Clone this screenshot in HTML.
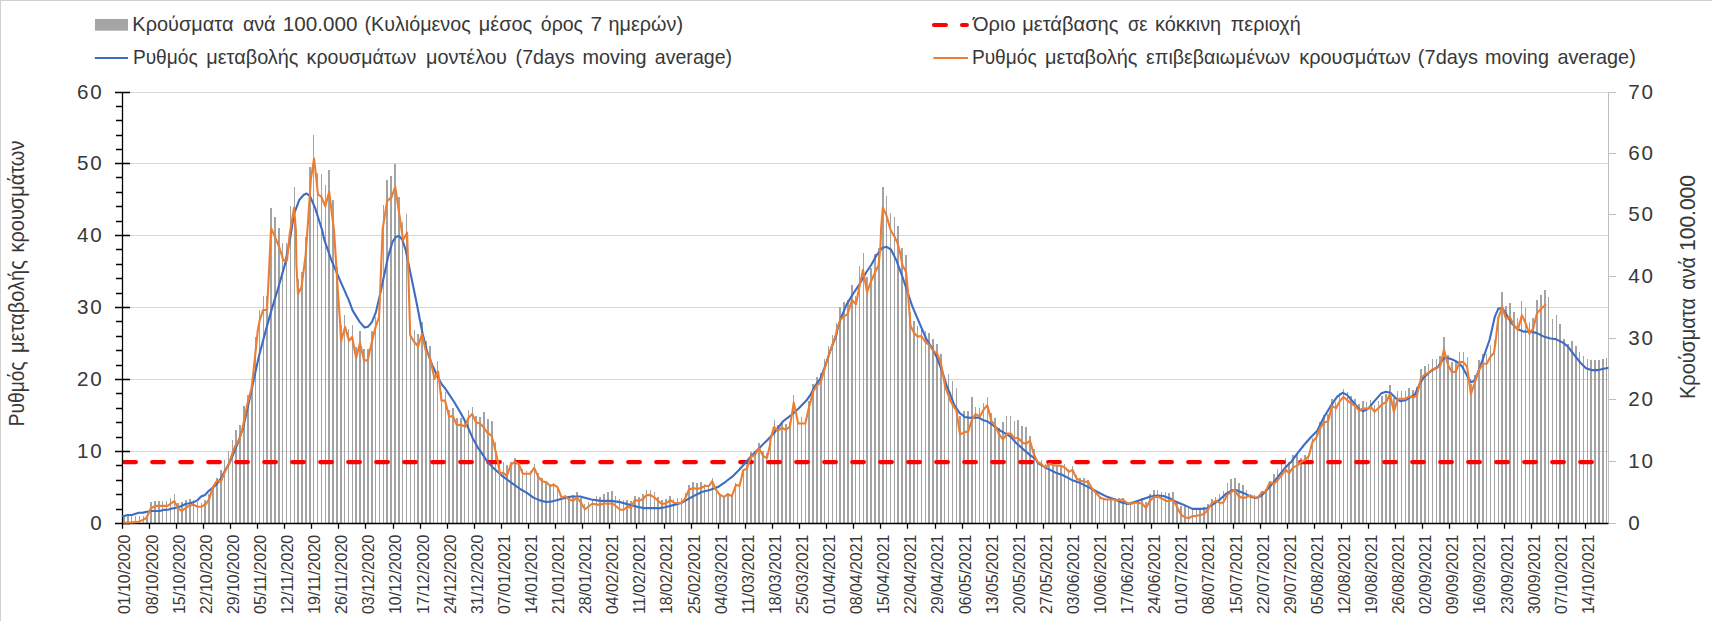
<!DOCTYPE html>
<html lang="el"><head><meta charset="utf-8"><title>Chart</title>
<style>html,body{margin:0;padding:0;background:#fff;width:1712px;height:621px;overflow:hidden}</style>
</head><body>
<svg width="1712" height="621" viewBox="0 0 1712 621" style="position:absolute;left:0;top:0;font-family:'Liberation Sans',sans-serif">
<rect x="0" y="0" width="1712" height="621" fill="#fff"/>
<path d="M0 0H1712V1H1V621H0z" fill="#d0d0d0"/>
<path d="M122.5 451.5H1608.5M122.5 379.5H1608.5M122.5 307.5H1608.5M122.5 235.5H1608.5M122.5 163.5H1608.5M122.5 92.5H1608.5" stroke="#d6d6d6" stroke-width="1" fill="none"/>
<path d="M123 523.5V516H125V523.5zM127 523.5V516H129V523.5zM131 523.5V516H132V523.5zM135 523.5V516H136V523.5zM139 523.5V516H140V523.5zM143 523.5V516H144V523.5zM146 523.5V516H148V523.5zM150 523.5V502H152V523.5zM154 523.5V501H156V523.5zM158 523.5V501H160V523.5zM162 523.5V501H163V523.5zM166 523.5V501H167V523.5zM170 523.5V498H171V523.5zM174 523.5V494H175V523.5zM177 523.5V503H179V523.5zM181 523.5V502H183V523.5zM185 523.5V500H187V523.5zM189 523.5V499H191V523.5zM193 523.5V500H194V523.5zM197 523.5V502H198V523.5zM201 523.5V503H202V523.5zM204 523.5V500H206V523.5zM208 523.5V494H210V523.5zM212 523.5V486H214V523.5zM216 523.5V478H218V523.5zM220 523.5V470H222V523.5zM224 523.5V460H225V523.5zM228 523.5V451H229V523.5zM232 523.5V440H233V523.5zM235 523.5V430H237V523.5zM239 523.5V425H241V523.5zM243 523.5V406H245V523.5zM247 523.5V395H249V523.5zM251 523.5V386H253V523.5zM255 523.5V337H256V523.5zM259 523.5V310H260V523.5zM263 523.5V296H264V523.5zM266 523.5V296H268V523.5zM270 523.5V208H272V523.5zM274 523.5V217H276V523.5zM278 523.5V228H280V523.5zM282 523.5V243H283V523.5zM286 523.5V243H287V523.5zM290 523.5V206H291V523.5zM294 523.5V187H295V523.5zM297 523.5V279H299V523.5zM301 523.5V272H303V523.5zM305 523.5V237H307V523.5zM309 523.5V167H311V523.5zM313 523.5V135H314V523.5zM317 523.5V173H318V523.5zM321 523.5V174H322V523.5zM325 523.5V185H326V523.5zM328 523.5V170H330V523.5zM332 523.5V200H334V523.5zM336 523.5V267H338V523.5zM340 523.5V325H342V523.5zM344 523.5V315H345V523.5zM348 523.5V329H349V523.5zM352 523.5V325H353V523.5zM355 523.5V347H357V523.5zM359 523.5V331H361V523.5zM363 523.5V349H365V523.5zM367 523.5V349H369V523.5zM371 523.5V331H373V523.5zM375 523.5V317H376V523.5zM379 523.5V314H380V523.5zM383 523.5V205H384V523.5zM386 523.5V180H388V523.5zM390 523.5V176H392V523.5zM394 523.5V164H396V523.5zM398 523.5V197H400V523.5zM402 523.5V222H403V523.5zM406 523.5V214H407V523.5zM410 523.5V331H411V523.5zM414 523.5V330H415V523.5zM417 523.5V334H419V523.5zM421 523.5V322H423V523.5zM425 523.5V341H427V523.5zM429 523.5V346H431V523.5zM433 523.5V371H434V523.5zM437 523.5V361H438V523.5zM441 523.5V392H442V523.5zM445 523.5V392H446V523.5zM448 523.5V410H450V523.5zM452 523.5V408H454V523.5zM456 523.5V418H458V523.5zM460 523.5V418H462V523.5zM464 523.5V418H465V523.5zM468 523.5V410H469V523.5zM472 523.5V407H473V523.5zM475 523.5V416H477V523.5zM479 523.5V417H481V523.5zM483 523.5V412H485V523.5zM487 523.5V419H489V523.5zM491 523.5V421H493V523.5zM495 523.5V442H496V523.5zM499 523.5V460H500V523.5zM503 523.5V462H504V523.5zM506 523.5V465H508V523.5zM510 523.5V462H512V523.5zM514 523.5V458H516V523.5zM518 523.5V462H520V523.5zM522 523.5V469H523V523.5zM526 523.5V471H527V523.5zM530 523.5V471H531V523.5zM534 523.5V464H535V523.5zM537 523.5V473H539V523.5zM541 523.5V478H543V523.5zM545 523.5V481H547V523.5zM549 523.5V484H551V523.5zM553 523.5V483H554V523.5zM557 523.5V486H558V523.5zM561 523.5V496H562V523.5zM565 523.5V495H566V523.5zM568 523.5V497H570V523.5zM572 523.5V495H574V523.5zM576 523.5V492H578V523.5zM580 523.5V498H582V523.5zM584 523.5V504H585V523.5zM588 523.5V502H589V523.5zM592 523.5V500H593V523.5zM596 523.5V496H597V523.5zM599 523.5V497H601V523.5zM603 523.5V494H605V523.5zM607 523.5V492H609V523.5zM611 523.5V491H613V523.5zM615 523.5V496H616V523.5zM619 523.5V499H620V523.5zM623 523.5V500H624V523.5zM626 523.5V500H628V523.5zM630 523.5V501H632V523.5zM634 523.5V496H636V523.5zM638 523.5V497H640V523.5zM642 523.5V494H644V523.5zM646 523.5V490H647V523.5zM650 523.5V490H651V523.5zM654 523.5V492H655V523.5zM657 523.5V497H659V523.5zM661 523.5V500H663V523.5zM665 523.5V499H667V523.5zM669 523.5V496H671V523.5zM673 523.5V499H674V523.5zM677 523.5V498H678V523.5zM681 523.5V498H682V523.5zM685 523.5V493H686V523.5zM688 523.5V485H690V523.5zM692 523.5V482H694V523.5zM696 523.5V483H698V523.5zM700 523.5V482H702V523.5zM704 523.5V484H705V523.5zM708 523.5V485H709V523.5zM712 523.5V478H713V523.5zM716 523.5V486H717V523.5zM719 523.5V494H721V523.5zM723 523.5V496H725V523.5zM727 523.5V493H729V523.5zM731 523.5V494H733V523.5zM735 523.5V483H736V523.5zM739 523.5V485H740V523.5zM743 523.5V470H744V523.5zM746 523.5V465H748V523.5zM750 523.5V452H752V523.5zM754 523.5V451H756V523.5zM758 523.5V443H760V523.5zM762 523.5V451H764V523.5zM766 523.5V453H767V523.5zM770 523.5V443H771V523.5zM774 523.5V420H775V523.5zM777 523.5V425H779V523.5zM781 523.5V422H783V523.5zM785 523.5V424H787V523.5zM789 523.5V422H791V523.5zM793 523.5V395H794V523.5zM797 523.5V418H798V523.5zM801 523.5V417H802V523.5zM805 523.5V419H806V523.5zM808 523.5V401H810V523.5zM812 523.5V384H814V523.5zM816 523.5V377H818V523.5zM820 523.5V373H822V523.5zM824 523.5V359H825V523.5zM828 523.5V346H829V523.5zM832 523.5V335H833V523.5zM836 523.5V323H837V523.5zM839 523.5V307H841V523.5zM843 523.5V302H845V523.5zM847 523.5V300H849V523.5zM851 523.5V285H853V523.5zM855 523.5V296H856V523.5zM859 523.5V266H860V523.5zM863 523.5V253H864V523.5zM866 523.5V277H868V523.5zM870 523.5V268H872V523.5zM874 523.5V254H876V523.5zM878 523.5V248H880V523.5zM882 523.5V187H884V523.5zM886 523.5V196H887V523.5zM890 523.5V213H891V523.5zM894 523.5V217H895V523.5zM897 523.5V226H899V523.5zM901 523.5V248H903V523.5zM905 523.5V255H907V523.5zM909 523.5V312H911V523.5zM913 523.5V321H915V523.5zM917 523.5V326H918V523.5zM921 523.5V329H922V523.5zM925 523.5V331H926V523.5zM928 523.5V333H930V523.5zM932 523.5V339H934V523.5zM936 523.5V344H938V523.5zM940 523.5V354H942V523.5zM944 523.5V380H945V523.5zM948 523.5V374H949V523.5zM952 523.5V381H953V523.5zM956 523.5V388H957V523.5zM959 523.5V416H961V523.5zM963 523.5V411H965V523.5zM967 523.5V411H969V523.5zM971 523.5V397H973V523.5zM975 523.5V407H976V523.5zM979 523.5V408H980V523.5zM983 523.5V403H984V523.5zM987 523.5V397H988V523.5zM990 523.5V413H992V523.5zM994 523.5V418H996V523.5zM998 523.5V428H1000V523.5zM1002 523.5V422H1004V523.5zM1006 523.5V416H1007V523.5zM1010 523.5V416H1011V523.5zM1014 523.5V421H1015V523.5zM1017 523.5V420H1019V523.5zM1021 523.5V426H1023V523.5zM1025 523.5V427H1027V523.5zM1029 523.5V436H1031V523.5zM1033 523.5V449H1035V523.5zM1037 523.5V461H1038V523.5zM1041 523.5V460H1042V523.5zM1045 523.5V464H1046V523.5zM1048 523.5V463H1050V523.5zM1052 523.5V465H1054V523.5zM1056 523.5V465H1058V523.5zM1060 523.5V466H1062V523.5zM1064 523.5V464H1065V523.5zM1068 523.5V469H1069V523.5zM1072 523.5V466H1073V523.5zM1076 523.5V475H1077V523.5zM1079 523.5V478H1081V523.5zM1083 523.5V478H1085V523.5zM1087 523.5V480H1089V523.5zM1091 523.5V488H1093V523.5zM1095 523.5V492H1096V523.5zM1099 523.5V496H1100V523.5zM1103 523.5V498H1104V523.5zM1107 523.5V499H1108V523.5zM1110 523.5V498H1112V523.5zM1114 523.5V498H1116V523.5zM1118 523.5V498H1120V523.5zM1122 523.5V498H1124V523.5zM1126 523.5V502H1127V523.5zM1130 523.5V503H1131V523.5zM1134 523.5V502H1135V523.5zM1137 523.5V500H1139V523.5zM1141 523.5V498H1143V523.5zM1145 523.5V502H1147V523.5zM1149 523.5V494H1151V523.5zM1153 523.5V490H1155V523.5zM1157 523.5V490H1158V523.5zM1161 523.5V492H1162V523.5zM1165 523.5V492H1166V523.5zM1168 523.5V493H1170V523.5zM1172 523.5V492H1174V523.5zM1176 523.5V501H1178V523.5zM1180 523.5V506H1182V523.5zM1184 523.5V506H1186V523.5zM1188 523.5V507H1189V523.5zM1192 523.5V510H1193V523.5zM1196 523.5V510H1197V523.5zM1199 523.5V509H1201V523.5zM1203 523.5V507H1205V523.5zM1207 523.5V504H1209V523.5zM1211 523.5V499H1213V523.5zM1215 523.5V497H1216V523.5zM1219 523.5V494H1220V523.5zM1223 523.5V491H1224V523.5zM1227 523.5V483H1228V523.5zM1230 523.5V479H1232V523.5zM1234 523.5V478H1236V523.5zM1238 523.5V483H1240V523.5zM1242 523.5V485H1244V523.5zM1246 523.5V490H1247V523.5zM1250 523.5V494H1251V523.5zM1254 523.5V495H1255V523.5zM1258 523.5V495H1259V523.5zM1261 523.5V491H1263V523.5zM1265 523.5V489H1267V523.5zM1269 523.5V481H1271V523.5zM1273 523.5V474H1275V523.5zM1277 523.5V469H1278V523.5zM1281 523.5V462H1282V523.5zM1285 523.5V458H1286V523.5zM1288 523.5V462H1290V523.5zM1292 523.5V455H1294V523.5zM1296 523.5V454H1298V523.5zM1300 523.5V458H1302V523.5zM1304 523.5V455H1306V523.5zM1308 523.5V456H1309V523.5zM1312 523.5V438H1313V523.5zM1316 523.5V433H1317V523.5zM1319 523.5V422H1321V523.5zM1323 523.5V415H1325V523.5zM1327 523.5V414H1329V523.5zM1331 523.5V399H1333V523.5zM1335 523.5V402H1336V523.5zM1339 523.5V393H1340V523.5zM1343 523.5V389H1344V523.5zM1347 523.5V392H1348V523.5zM1350 523.5V396H1352V523.5zM1354 523.5V399H1356V523.5zM1358 523.5V404H1360V523.5zM1362 523.5V401H1364V523.5zM1366 523.5V402H1367V523.5zM1370 523.5V400H1371V523.5zM1374 523.5V405H1375V523.5zM1378 523.5V401H1379V523.5zM1381 523.5V396H1383V523.5zM1385 523.5V394H1387V523.5zM1389 523.5V385H1391V523.5zM1393 523.5V398H1395V523.5zM1397 523.5V391H1398V523.5zM1401 523.5V391H1402V523.5zM1405 523.5V391H1406V523.5zM1408 523.5V388H1410V523.5zM1412 523.5V390H1414V523.5zM1416 523.5V387H1418V523.5zM1420 523.5V369H1422V523.5zM1424 523.5V366H1426V523.5zM1428 523.5V364H1429V523.5zM1432 523.5V359H1433V523.5zM1436 523.5V359H1437V523.5zM1439 523.5V356H1441V523.5zM1443 523.5V337H1445V523.5zM1447 523.5V355H1449V523.5zM1451 523.5V362H1453V523.5zM1455 523.5V362H1457V523.5zM1459 523.5V352H1460V523.5zM1463 523.5V352H1464V523.5zM1467 523.5V357H1468V523.5zM1470 523.5V384H1472V523.5zM1474 523.5V375H1476V523.5zM1478 523.5V360H1480V523.5zM1482 523.5V354H1484V523.5zM1486 523.5V354H1487V523.5zM1490 523.5V345H1491V523.5zM1494 523.5V340H1495V523.5zM1498 523.5V316H1499V523.5zM1501 523.5V292H1503V523.5zM1505 523.5V306H1507V523.5zM1509 523.5V303H1511V523.5zM1513 523.5V312H1515V523.5zM1517 523.5V318H1518V523.5zM1521 523.5V301H1522V523.5zM1525 523.5V308H1526V523.5zM1529 523.5V322H1530V523.5zM1532 523.5V318H1534V523.5zM1536 523.5V300H1538V523.5zM1540 523.5V295H1542V523.5zM1544 523.5V290H1546V523.5zM1548 523.5V297H1549V523.5zM1552 523.5V319H1553V523.5zM1556 523.5V315H1557V523.5zM1559 523.5V324H1561V523.5zM1563 523.5V339H1565V523.5zM1567 523.5V344H1569V523.5zM1571 523.5V341H1573V523.5zM1575 523.5V346H1577V523.5zM1579 523.5V352H1580V523.5zM1583 523.5V356H1584V523.5zM1587 523.5V359H1588V523.5zM1590 523.5V360H1592V523.5zM1594 523.5V360H1596V523.5zM1598 523.5V360H1600V523.5zM1602 523.5V359H1604V523.5zM1606 523.5V358H1607V523.5z" fill="#a3a3a3" stroke="none"/>
<path d="M1608.5 92V523.5M1608.5 523.5h7.5M1608.5 461.5h7.5M1608.5 399.5h7.5M1608.5 338.5h7.5M1608.5 276.5h7.5M1608.5 214.5h7.5M1608.5 153.5h7.5M1608.5 92.5h7.5" stroke="#bfbfbf" stroke-width="1" fill="none"/>
<path d="M124.15 462.1H1606.72" stroke="#ff0000" stroke-width="4.1" stroke-linecap="round" stroke-dasharray="11.8 16.2" fill="none"/>
<path d="M122.5 91.9V523.5M115 523.5h15M116 509.5h6.5M116 494.5h6.5M116 480.5h6.5M116 465.5h6.5M115 451.5h15M116 437.5h6.5M116 422.5h6.5M116 408.5h6.5M116 393.5h6.5M115 379.5h15M116 365.5h6.5M116 350.5h6.5M116 336.5h6.5M116 321.5h6.5M115 307.5h15M116 293.5h6.5M116 278.5h6.5M116 264.5h6.5M116 249.5h6.5M115 235.5h15M116 221.5h6.5M116 206.5h6.5M116 192.5h6.5M116 177.5h6.5M115 163.5h15M116 149.5h6.5M116 135.5h6.5M116 120.5h6.5M116 106.5h6.5M115 92.5h15" stroke="#000" stroke-width="1.3" fill="none"/>
<path d="M121.85 523.5H1608.5M122.5 523.5v5.2M149.5 523.5v5.2M176.5 523.5v5.2M203.5 523.5v5.2M230.5 523.5v5.2M257.5 523.5v5.2M284.5 523.5v5.2M311.5 523.5v5.2M338.5 523.5v5.2M365.5 523.5v5.2M393.5 523.5v5.2M420.5 523.5v5.2M447.5 523.5v5.2M474.5 523.5v5.2M501.5 523.5v5.2M528.5 523.5v5.2M555.5 523.5v5.2M582.5 523.5v5.2M609.5 523.5v5.2M636.5 523.5v5.2M664.5 523.5v5.2M691.5 523.5v5.2M718.5 523.5v5.2M745.5 523.5v5.2M772.5 523.5v5.2M799.5 523.5v5.2M826.5 523.5v5.2M853.5 523.5v5.2M880.5 523.5v5.2M907.5 523.5v5.2M935.5 523.5v5.2M962.5 523.5v5.2M989.5 523.5v5.2M1016.5 523.5v5.2M1043.5 523.5v5.2M1070.5 523.5v5.2M1097.5 523.5v5.2M1124.5 523.5v5.2M1151.5 523.5v5.2M1178.5 523.5v5.2M1206.5 523.5v5.2M1233.5 523.5v5.2M1260.5 523.5v5.2M1287.5 523.5v5.2M1314.5 523.5v5.2M1341.5 523.5v5.2M1368.5 523.5v5.2M1395.5 523.5v5.2M1422.5 523.5v5.2M1449.5 523.5v5.2M1477.5 523.5v5.2M1504.5 523.5v5.2M1531.5 523.5v5.2M1558.5 523.5v5.2M1585.5 523.5v5.2" stroke="#000" stroke-width="1.3" fill="none"/>
<path d="M122.83 516.18L127.66 514.93L132.49 514.83L138.77 512.8L143.12 512.61L146.99 511.74L151.33 511.06L156.65 511.06L159.55 510.97L163.41 509.9L167.76 509.71L172.11 508.45L175.97 507.87L180.8 506.23L185.63 504.01L189.5 503.33L193.36 502.37L197.23 500.43L201.09 496.57L204.96 494.93L208.82 490.77L213.17 487.39L216.55 484.49L220.42 479.18L224.28 471.93L230.13 461.63L234.92 450.12L238.46 441.26L242 430.63L242.71 429.83L251.57 389.97L258.66 357.2L265.74 330.63L271.41 310.35L278.14 288.2L285.23 263.4L290.54 235.94L294.09 213.89L299.4 199.72L303.83 194.76L306.49 193.52L310.03 196.17L315.35 208.57L319.77 222.75L322.08 229.83L324.2 239.49L331.29 259.86L338.37 276.69L349 300.6L352.55 310.35L359.63 321.86L364.59 327.53L368.14 326.64L372.03 321.86L375.93 312.12L380.89 290.86L387.98 257.2L392.4 242.14L395.95 236.83L398.96 235.94L402.15 239.49L405.69 250.12L410.12 271.37L416.32 301.49L422.52 333.29L426.95 351L432.26 365.17L437.58 376.69L442.01 384.66L445.02 388.2L447.09 391.37L454.17 402L461.26 414.05L466.57 424.15L472.77 438.32L478.09 448.06L480.26 450.93L486.7 460.6L493.14 467.84L501.19 475.09L510.85 482.33L520.52 489.26L526.96 492.8L533.4 497.63L539.84 500.37L546.28 501.98L552.72 501.34L559.16 499.57L565.6 497.63L572.05 496.51L580.1 496.51L591.37 499.57L601.03 500.85L610.69 500.85L620.35 502.14L630.02 504.88L638.07 506.97L644.51 508.1L659.97 508.1L664.66 507.29L674.32 504.88L682.38 502.46L692.04 496.83L701.7 492L709.75 489.9L718.61 486.68L725.85 481.53L732.29 476.7L738.74 470.26L745.18 463.01L751.62 455.76L759.67 447.71L767.72 439.66L774.29 432.75L783.14 421.23L790.23 415.92L799.09 407.95L806.17 400.86L810.6 394.66L815.03 385.8L820.35 378.72L824.77 367.2L830.09 351.26L836.29 335.31L837.48 329.2L841.37 316.8L846.69 304.4L852 295.54L859.09 284.92L866.17 272.52L871.49 264.54L876.8 254.8L882.12 248.07L886.55 246.83L890.97 249.49L896.29 260.12L901.6 274.29L906.92 290.23L912.23 306.17L917.55 318.57L922.86 330.97L926.76 339.83L931.95 347.71L937.26 358.34L942.58 372.52L947.01 386.69L950.02 393.77L954.17 404.92L959.49 412.89L964.8 416.96L970.12 417.85L975.43 417.67L978.97 417.67L983.4 420.33L986.94 421.21L993.14 425.29L1000.23 430.6L1007.32 434.68L1010.86 436.8L1016.17 443L1023.26 449.2L1030.35 455.4L1035.66 458.95L1037.88 463.01L1045.93 467.84L1055.6 472.67L1062.04 474.77L1071.7 479.92L1079.75 482.82L1089.41 487.65L1097.46 492L1107.13 496.83L1115.18 499.57L1121.62 502.46L1128.06 504.07L1134.5 501.98L1142.55 499.24L1150.6 496.51L1157.05 495.54L1163.49 496.02L1169.93 498.44L1176.37 501.98L1182.81 504.4L1192.47 508.9L1200.52 508.9L1206.96 508.42L1213.41 504.07L1219.85 499.57L1226.29 493.61L1231.92 490.39L1235.95 490.06L1240.78 492L1244.97 493.61L1246.44 494.41L1252.08 497.31L1256.1 497.95L1260.93 496.02L1265.76 491.19L1272.21 483.95L1278.65 475.89L1285.09 467.84L1291.53 461.4L1297.97 452.54L1304.41 444.49L1310.85 437.25L1317.29 430.81L1323.03 418.83L1330.12 406.96L1337.2 396.69L1342.52 392.79L1346.94 394.92L1353.14 402L1359.34 409.09L1362.89 411.21L1368.2 408.73L1374.4 401.12L1381.49 393.14L1385.92 391.73L1390.35 392.79L1395.66 398.1L1400.09 401.12L1405.4 400.23L1410.72 397.04L1415.15 394.03L1419.57 384.29L1424 377.2L1431.09 371L1438.18 366.57L1443.49 358.6L1447.03 357.71L1452.35 359.49L1457.66 362.14L1462.09 366.57L1467.4 376.32L1470.95 382.16L1474.49 380.74L1478.92 370.12L1484.23 355.06L1489.55 340L1494.77 316.94L1498.32 308.62L1502.39 308.09L1506.29 314.29L1511.6 323.14L1517.8 329.34L1524 331.65L1531.09 331.65L1536.4 332.89L1543.49 336.43L1550.58 338.56L1555.89 339.09L1562.98 342.63L1568.29 347.06L1573.6 354.15L1580.69 363L1586.01 368.32L1591.32 370.09L1598.41 370.09L1603.72 368.85L1607.62 367.96" stroke="#3d6cc4" stroke-width="2.1" stroke-linejoin="round" stroke-linecap="round" fill="none"/>
<path d="M124.2 522.75L132.17 522.39L139.26 521.86L146.34 517.96L150.77 508.57L155.2 505.92L161.4 505.74L167.6 505.92L174.33 501.13L178.23 508.57L181.77 510.88L188.86 505.92L193.29 504.68L197.72 506.8L201.26 506.8L206.57 503.26L209.23 498.83L212.77 487.32L217.2 480.23L220.75 482L224.29 473.14L228.72 464.29L232.26 453.66L234.92 446.57L239.35 439.49L242 430.63L247.14 405.03L251.57 388.2L254.23 364.29L257.77 330.63L259.54 320.97L263.09 309.99L266.98 309.99L268.93 273.14L271.06 227.97L274.96 236.83L279.03 246.57L283.46 260.39L287 260.39L289.66 234.17L294.09 207.69L295.86 229.83L296.39 264.29L297.98 294.05L301.53 286.96L305.6 255.43L307.91 223.54L310.92 178.46L314.11 158.62L318 194.4L321.19 196.53L325.27 206.27L329.16 191.74L333.95 229.83L335.19 248.34L337.84 290.86L340.15 322.75L341.03 341.26L345.11 327.09L349 340.9L352.19 336.83L356.09 358.09L359.99 343.03L364.06 360.39L367.6 360.39L372.03 341.26L375.58 327.09L379.12 316.55L380.89 273.14L382.66 228.86L387.09 201.13L391.52 197.06L395.24 186.96L399.49 215.66L401.62 229.83L403.03 240.37L407.11 232.75L408.35 273.14L409.77 319.2L410.12 335.06L413.66 341.26L418.09 346.22L421.99 334.17L426.06 351.89L429.61 356.32L434.57 378.81L438.11 371.37L441.47 400.6L445.02 400.6L449.21 417.06L452.75 415.82L456.83 425.03L460.9 424.68L465.16 426.8L468.34 417.95L472.24 414.05L475.96 422.37L479.86 423.61L483.4 426.8L487.48 433L491.37 435.31L494.03 444.52L495.56 450.93L497.97 462.21L499.9 473.48L503.12 472.67L506.83 475.89L510.85 464.62L514.88 461.88L518.58 463.82L522.93 473.8L530.18 473.8L534.2 467.84L538.23 476.7L542.25 481.21L546.28 482.33L550.31 486.04L553.53 484.75L557.55 487.17L561.58 497.63L565.28 496.34L568.82 499.24L572.85 500.85L576.88 497.63L580.9 502.46L584.93 509.23L592.17 503.75L599.42 504.88L604.25 503.27L608.28 504.07L612.3 503.27L616.33 506.49L620.35 509.71L623.57 509.71L627.6 506.49L630.82 508.1L634.85 500.05L638.87 500.85L642.58 499.24L646.44 495.22L650.14 494.9L654.17 497.31L659.97 502.46L662.25 504.07L666.27 503.27L670.3 500.05L674.32 502.79L680.76 503.27L684.79 499.24L688.82 489.9L692.84 487.97L696.87 489.1L700.89 487.97L704.92 486.04L708.95 486.04L712.17 481.21L715.39 488.78L719.41 494.41L723.92 496.83L727.79 494.41L731.97 496.02L736 484.75L739.54 486.04L743.24 470.26L746.79 468.65L750.81 457.05L754.84 454.96L758.86 448.04L762.89 455.76L766.92 458.18L770.14 444.49L770.39 439.83L773.93 427.08L777.83 430.62L781.73 427.79L785.8 429.73L789.88 426.55L793.77 402.63L798.2 423.53L805.29 423.53L808.83 407.95L813.26 391.12L816.8 385.8L820.7 382.26L824.77 368.09L830.09 351.26L836.29 333.54L836.94 329.2L840.49 319.46L844.03 316.45L847.57 314.15L852 299.97L855.9 304.4L859.44 286.69L862.98 269.86L867.06 292L871.13 281.37L875.03 272.52L878.57 265.43L880.35 247.71L881.17 227.95L882.85 207.6L886.32 215.07L888.9 224.09L890.83 230.53L894.69 236.97L897.66 243.41L899.2 249.85L899.83 251.26L902.49 265.43L906.03 271.63L907.8 290.23L910.46 325.66L914 332.75L917.55 336.64L921.09 335.93L924.28 339.83L924.86 341.51L929.29 345.06L933.72 351.26L937.26 353.91L940.81 362.77L945.23 386.69L950.02 399.97L952.4 404.56L956.3 410.23L960.02 434.68L964.8 431.84L967.99 431.84L971.89 419.97L975.43 414.13L979.86 416.43L983.4 409.88L987.3 405.27L991.37 420.86L994.92 425.29L999.34 434.68L1002.89 439.46L1007.32 433.61L1010.86 433.61L1014.4 438.57L1017.95 437.69L1022.37 442.47L1025.92 443.89L1029.99 440.7L1033.89 454.52L1036.55 459.83L1037.88 462.21L1041.1 463.82L1045.13 467.84L1049.15 463.82L1053.18 465.1L1057.21 465.75L1061.23 465.75L1065.26 467.84L1068.8 471.87L1072.5 469.94L1076.53 478.31L1080.23 480.72L1084.26 481.53L1088.12 481.85L1092.63 489.26L1096.66 493.61L1100.68 497.95L1105.52 499.57L1111.96 499.57L1118.4 500.05L1122.75 499.57L1126.77 502.79L1130.48 504.07L1134.5 502.79L1138.53 502.79L1142.23 503.75L1146.1 508.1L1149.8 500.85L1153.82 497.31L1157.85 496.83L1161.88 498.44L1165.9 500.85L1169.93 500.85L1173.15 500.05L1177.17 507.29L1180.88 514.54L1184.42 516.96L1188.45 518.24L1192.47 516.15L1196.5 515.83L1200.52 515.02L1204.07 514.06L1207.77 509.71L1211.8 503.27L1215.82 500.85L1219.85 502.79L1223.07 502.79L1227.09 495.22L1231.12 492L1234.82 490.06L1238.37 496.02L1242.39 497.95L1244.97 497.63L1247.25 496.83L1250.47 495.7L1254.49 497.31L1258.04 497.63L1261.74 492.48L1265.76 491.19L1269.79 482.33L1273.82 483.95L1277.84 479.92L1281.87 475.09L1285.57 469.45L1289.11 473.16L1293.14 467.36L1297.17 465.75L1301.19 461.88L1305.22 459.79L1308.92 455.76L1312.46 442.08L1316.49 437.25L1319.23 430L1319.84 428.57L1323.91 422.37L1327.99 421.49L1331.89 405.9L1335.96 408.2L1339.86 401.12L1343.4 397.04L1346.94 399.88L1351.37 403.77L1355.27 405.9L1359.34 410.86L1363.24 408.2L1367.32 408.73L1370.86 406.96L1374.4 411.74L1378.83 407.67L1382.37 404.13L1386.27 402L1389.99 394.03L1393.89 411.74L1397.79 398.81L1405.4 398.81L1409.3 396.33L1413.37 397.57L1416.92 395.27L1420.99 378.09L1424.89 374.54L1428.79 372.77L1432.51 369.23L1436.4 368.34L1440.3 365.69L1444.02 349.74L1447.92 364.8L1451.82 371.89L1455.89 371.89L1459.43 362.14L1463.33 362.14L1467.05 366.57L1470.95 394.03L1474.84 382.52L1478.92 370.12L1482.82 363.91L1486.89 363.56L1490.43 356.83L1493.98 352.75L1495.75 340L1498.32 317.83L1502.21 306.85L1505.93 318.72L1509.83 316.94L1513.73 324.92L1517.8 329.88L1521.88 315.17L1525.42 322.79L1529.32 333.77L1533.22 328.46L1536.94 313.4L1540.83 308.97L1545.26 304.9" stroke="#ed7d31" stroke-width="2.1" stroke-linejoin="round" stroke-linecap="round" fill="none"/>
<text x="103.6" y="530.1" font-size="20.6" letter-spacing="1.8" text-anchor="end" fill="#383838">0</text>
<text x="103.6" y="458.1" font-size="20.6" letter-spacing="1.8" text-anchor="end" fill="#383838">10</text>
<text x="103.6" y="386.1" font-size="20.6" letter-spacing="1.8" text-anchor="end" fill="#383838">20</text>
<text x="103.6" y="314.1" font-size="20.6" letter-spacing="1.8" text-anchor="end" fill="#383838">30</text>
<text x="103.6" y="242.1" font-size="20.6" letter-spacing="1.8" text-anchor="end" fill="#383838">40</text>
<text x="103.6" y="170.1" font-size="20.6" letter-spacing="1.8" text-anchor="end" fill="#383838">50</text>
<text x="103.6" y="99.1" font-size="20.6" letter-spacing="1.8" text-anchor="end" fill="#383838">60</text>
<text x="1628.2" y="529.7" font-size="20.6" letter-spacing="1.8" fill="#383838">0</text>
<text x="1628.2" y="467.7" font-size="20.6" letter-spacing="1.8" fill="#383838">10</text>
<text x="1628.2" y="405.7" font-size="20.6" letter-spacing="1.8" fill="#383838">20</text>
<text x="1628.2" y="344.7" font-size="20.6" letter-spacing="1.8" fill="#383838">30</text>
<text x="1628.2" y="282.7" font-size="20.6" letter-spacing="1.8" fill="#383838">40</text>
<text x="1628.2" y="220.7" font-size="20.6" letter-spacing="1.8" fill="#383838">50</text>
<text x="1628.2" y="159.7" font-size="20.6" letter-spacing="1.8" fill="#383838">60</text>
<text x="1628.2" y="98.7" font-size="20.6" letter-spacing="1.8" fill="#383838">70</text>
<text transform="translate(130.48 534.7) rotate(-90)" font-size="15.7" text-anchor="end" textLength="79.3" lengthAdjust="spacingAndGlyphs" fill="#383838">01/10/2020</text>
<text transform="translate(157.58 534.7) rotate(-90)" font-size="15.7" text-anchor="end" textLength="79.3" lengthAdjust="spacingAndGlyphs" fill="#383838">08/10/2020</text>
<text transform="translate(184.68 534.7) rotate(-90)" font-size="15.7" text-anchor="end" textLength="79.3" lengthAdjust="spacingAndGlyphs" fill="#383838">15/10/2020</text>
<text transform="translate(211.78 534.7) rotate(-90)" font-size="15.7" text-anchor="end" textLength="79.3" lengthAdjust="spacingAndGlyphs" fill="#383838">22/10/2020</text>
<text transform="translate(238.87 534.7) rotate(-90)" font-size="15.7" text-anchor="end" textLength="79.3" lengthAdjust="spacingAndGlyphs" fill="#383838">29/10/2020</text>
<text transform="translate(265.97 534.7) rotate(-90)" font-size="15.7" text-anchor="end" textLength="79.3" lengthAdjust="spacingAndGlyphs" fill="#383838">05/11/2020</text>
<text transform="translate(293.07 534.7) rotate(-90)" font-size="15.7" text-anchor="end" textLength="79.3" lengthAdjust="spacingAndGlyphs" fill="#383838">12/11/2020</text>
<text transform="translate(320.17 534.7) rotate(-90)" font-size="15.7" text-anchor="end" textLength="79.3" lengthAdjust="spacingAndGlyphs" fill="#383838">19/11/2020</text>
<text transform="translate(347.27 534.7) rotate(-90)" font-size="15.7" text-anchor="end" textLength="79.3" lengthAdjust="spacingAndGlyphs" fill="#383838">26/11/2020</text>
<text transform="translate(374.37 534.7) rotate(-90)" font-size="15.7" text-anchor="end" textLength="79.3" lengthAdjust="spacingAndGlyphs" fill="#383838">03/12/2020</text>
<text transform="translate(401.47 534.7) rotate(-90)" font-size="15.7" text-anchor="end" textLength="79.3" lengthAdjust="spacingAndGlyphs" fill="#383838">10/12/2020</text>
<text transform="translate(428.57 534.7) rotate(-90)" font-size="15.7" text-anchor="end" textLength="79.3" lengthAdjust="spacingAndGlyphs" fill="#383838">17/12/2020</text>
<text transform="translate(455.67 534.7) rotate(-90)" font-size="15.7" text-anchor="end" textLength="79.3" lengthAdjust="spacingAndGlyphs" fill="#383838">24/12/2020</text>
<text transform="translate(482.77 534.7) rotate(-90)" font-size="15.7" text-anchor="end" textLength="79.3" lengthAdjust="spacingAndGlyphs" fill="#383838">31/12/2020</text>
<text transform="translate(509.87 534.7) rotate(-90)" font-size="15.7" text-anchor="end" textLength="79.3" lengthAdjust="spacingAndGlyphs" fill="#383838">07/01/2021</text>
<text transform="translate(536.97 534.7) rotate(-90)" font-size="15.7" text-anchor="end" textLength="79.3" lengthAdjust="spacingAndGlyphs" fill="#383838">14/01/2021</text>
<text transform="translate(564.07 534.7) rotate(-90)" font-size="15.7" text-anchor="end" textLength="79.3" lengthAdjust="spacingAndGlyphs" fill="#383838">21/01/2021</text>
<text transform="translate(591.17 534.7) rotate(-90)" font-size="15.7" text-anchor="end" textLength="79.3" lengthAdjust="spacingAndGlyphs" fill="#383838">28/01/2021</text>
<text transform="translate(618.27 534.7) rotate(-90)" font-size="15.7" text-anchor="end" textLength="79.3" lengthAdjust="spacingAndGlyphs" fill="#383838">04/02/2021</text>
<text transform="translate(645.37 534.7) rotate(-90)" font-size="15.7" text-anchor="end" textLength="79.3" lengthAdjust="spacingAndGlyphs" fill="#383838">11/02/2021</text>
<text transform="translate(672.47 534.7) rotate(-90)" font-size="15.7" text-anchor="end" textLength="79.3" lengthAdjust="spacingAndGlyphs" fill="#383838">18/02/2021</text>
<text transform="translate(699.57 534.7) rotate(-90)" font-size="15.7" text-anchor="end" textLength="79.3" lengthAdjust="spacingAndGlyphs" fill="#383838">25/02/2021</text>
<text transform="translate(726.67 534.7) rotate(-90)" font-size="15.7" text-anchor="end" textLength="79.3" lengthAdjust="spacingAndGlyphs" fill="#383838">04/03/2021</text>
<text transform="translate(753.77 534.7) rotate(-90)" font-size="15.7" text-anchor="end" textLength="79.3" lengthAdjust="spacingAndGlyphs" fill="#383838">11/03/2021</text>
<text transform="translate(780.87 534.7) rotate(-90)" font-size="15.7" text-anchor="end" textLength="79.3" lengthAdjust="spacingAndGlyphs" fill="#383838">18/03/2021</text>
<text transform="translate(807.97 534.7) rotate(-90)" font-size="15.7" text-anchor="end" textLength="79.3" lengthAdjust="spacingAndGlyphs" fill="#383838">25/03/2021</text>
<text transform="translate(835.07 534.7) rotate(-90)" font-size="15.7" text-anchor="end" textLength="79.3" lengthAdjust="spacingAndGlyphs" fill="#383838">01/04/2021</text>
<text transform="translate(862.17 534.7) rotate(-90)" font-size="15.7" text-anchor="end" textLength="79.3" lengthAdjust="spacingAndGlyphs" fill="#383838">08/04/2021</text>
<text transform="translate(889.27 534.7) rotate(-90)" font-size="15.7" text-anchor="end" textLength="79.3" lengthAdjust="spacingAndGlyphs" fill="#383838">15/04/2021</text>
<text transform="translate(916.37 534.7) rotate(-90)" font-size="15.7" text-anchor="end" textLength="79.3" lengthAdjust="spacingAndGlyphs" fill="#383838">22/04/2021</text>
<text transform="translate(943.47 534.7) rotate(-90)" font-size="15.7" text-anchor="end" textLength="79.3" lengthAdjust="spacingAndGlyphs" fill="#383838">29/04/2021</text>
<text transform="translate(970.57 534.7) rotate(-90)" font-size="15.7" text-anchor="end" textLength="79.3" lengthAdjust="spacingAndGlyphs" fill="#383838">06/05/2021</text>
<text transform="translate(997.67 534.7) rotate(-90)" font-size="15.7" text-anchor="end" textLength="79.3" lengthAdjust="spacingAndGlyphs" fill="#383838">13/05/2021</text>
<text transform="translate(1024.77 534.7) rotate(-90)" font-size="15.7" text-anchor="end" textLength="79.3" lengthAdjust="spacingAndGlyphs" fill="#383838">20/05/2021</text>
<text transform="translate(1051.87 534.7) rotate(-90)" font-size="15.7" text-anchor="end" textLength="79.3" lengthAdjust="spacingAndGlyphs" fill="#383838">27/05/2021</text>
<text transform="translate(1078.97 534.7) rotate(-90)" font-size="15.7" text-anchor="end" textLength="79.3" lengthAdjust="spacingAndGlyphs" fill="#383838">03/06/2021</text>
<text transform="translate(1106.07 534.7) rotate(-90)" font-size="15.7" text-anchor="end" textLength="79.3" lengthAdjust="spacingAndGlyphs" fill="#383838">10/06/2021</text>
<text transform="translate(1133.17 534.7) rotate(-90)" font-size="15.7" text-anchor="end" textLength="79.3" lengthAdjust="spacingAndGlyphs" fill="#383838">17/06/2021</text>
<text transform="translate(1160.27 534.7) rotate(-90)" font-size="15.7" text-anchor="end" textLength="79.3" lengthAdjust="spacingAndGlyphs" fill="#383838">24/06/2021</text>
<text transform="translate(1187.37 534.7) rotate(-90)" font-size="15.7" text-anchor="end" textLength="79.3" lengthAdjust="spacingAndGlyphs" fill="#383838">01/07/2021</text>
<text transform="translate(1214.47 534.7) rotate(-90)" font-size="15.7" text-anchor="end" textLength="79.3" lengthAdjust="spacingAndGlyphs" fill="#383838">08/07/2021</text>
<text transform="translate(1241.57 534.7) rotate(-90)" font-size="15.7" text-anchor="end" textLength="79.3" lengthAdjust="spacingAndGlyphs" fill="#383838">15/07/2021</text>
<text transform="translate(1268.67 534.7) rotate(-90)" font-size="15.7" text-anchor="end" textLength="79.3" lengthAdjust="spacingAndGlyphs" fill="#383838">22/07/2021</text>
<text transform="translate(1295.77 534.7) rotate(-90)" font-size="15.7" text-anchor="end" textLength="79.3" lengthAdjust="spacingAndGlyphs" fill="#383838">29/07/2021</text>
<text transform="translate(1322.87 534.7) rotate(-90)" font-size="15.7" text-anchor="end" textLength="79.3" lengthAdjust="spacingAndGlyphs" fill="#383838">05/08/2021</text>
<text transform="translate(1349.97 534.7) rotate(-90)" font-size="15.7" text-anchor="end" textLength="79.3" lengthAdjust="spacingAndGlyphs" fill="#383838">12/08/2021</text>
<text transform="translate(1377.07 534.7) rotate(-90)" font-size="15.7" text-anchor="end" textLength="79.3" lengthAdjust="spacingAndGlyphs" fill="#383838">19/08/2021</text>
<text transform="translate(1404.17 534.7) rotate(-90)" font-size="15.7" text-anchor="end" textLength="79.3" lengthAdjust="spacingAndGlyphs" fill="#383838">26/08/2021</text>
<text transform="translate(1431.27 534.7) rotate(-90)" font-size="15.7" text-anchor="end" textLength="79.3" lengthAdjust="spacingAndGlyphs" fill="#383838">02/09/2021</text>
<text transform="translate(1458.37 534.7) rotate(-90)" font-size="15.7" text-anchor="end" textLength="79.3" lengthAdjust="spacingAndGlyphs" fill="#383838">09/09/2021</text>
<text transform="translate(1485.47 534.7) rotate(-90)" font-size="15.7" text-anchor="end" textLength="79.3" lengthAdjust="spacingAndGlyphs" fill="#383838">16/09/2021</text>
<text transform="translate(1512.57 534.7) rotate(-90)" font-size="15.7" text-anchor="end" textLength="79.3" lengthAdjust="spacingAndGlyphs" fill="#383838">23/09/2021</text>
<text transform="translate(1539.67 534.7) rotate(-90)" font-size="15.7" text-anchor="end" textLength="79.3" lengthAdjust="spacingAndGlyphs" fill="#383838">30/09/2021</text>
<text transform="translate(1566.77 534.7) rotate(-90)" font-size="15.7" text-anchor="end" textLength="79.3" lengthAdjust="spacingAndGlyphs" fill="#383838">07/10/2021</text>
<text transform="translate(1593.86 534.7) rotate(-90)" font-size="15.7" text-anchor="end" textLength="79.3" lengthAdjust="spacingAndGlyphs" fill="#383838">14/10/2021</text>
<text y="31.3" font-size="19.8" fill="#383838"><tspan x="132.39" textLength="101.05" lengthAdjust="spacingAndGlyphs">Κρούσματα</tspan> <tspan x="242.9" textLength="32.53" lengthAdjust="spacingAndGlyphs">ανά</tspan> <tspan x="282.86" textLength="74.65" lengthAdjust="spacingAndGlyphs">100.000</tspan> <tspan x="364.5" textLength="106.13" lengthAdjust="spacingAndGlyphs">(Κυλιόμενος</tspan> <tspan x="478.79" textLength="53.34" lengthAdjust="spacingAndGlyphs">μέσος</tspan> <tspan x="540.8" textLength="42.23" lengthAdjust="spacingAndGlyphs">όρος</tspan> <tspan x="590.54" textLength="11.61" lengthAdjust="spacingAndGlyphs">7</tspan> <tspan x="608.6" textLength="74.39" lengthAdjust="spacingAndGlyphs">ημερών)</tspan></text>
<text y="64.2" font-size="19.8" fill="#383838"><tspan x="132.93" textLength="64.68" lengthAdjust="spacingAndGlyphs">Ρυθμός</tspan> <tspan x="206.29" textLength="92.14" lengthAdjust="spacingAndGlyphs">μεταβολής</tspan> <tspan x="306.61" textLength="109.68" lengthAdjust="spacingAndGlyphs">κρουσμάτων</tspan> <tspan x="425.99" textLength="80.83" lengthAdjust="spacingAndGlyphs">μοντέλου</tspan> <tspan x="515.6" textLength="59.09" lengthAdjust="spacingAndGlyphs">(7days</tspan> <tspan x="582.5" textLength="64.01" lengthAdjust="spacingAndGlyphs">moving</tspan> <tspan x="654.8" textLength="77.28" lengthAdjust="spacingAndGlyphs">average)</tspan></text>
<text y="31.3" font-size="19.8" fill="#383838"><tspan x="973.01" textLength="42.59" lengthAdjust="spacingAndGlyphs">Όριο</tspan> <tspan x="1022.18" textLength="96.26" lengthAdjust="spacingAndGlyphs">μετάβασης</tspan> <tspan x="1127.9" textLength="19.63" lengthAdjust="spacingAndGlyphs">σε</tspan> <tspan x="1155.09" textLength="66.11" lengthAdjust="spacingAndGlyphs">κόκκινη</tspan> <tspan x="1230.7" textLength="70" lengthAdjust="spacingAndGlyphs">περιοχή</tspan></text>
<text y="64.2" font-size="19.8" fill="#383838"><tspan x="971.93" textLength="64.68" lengthAdjust="spacingAndGlyphs">Ρυθμός</tspan> <tspan x="1044.99" textLength="92.35" lengthAdjust="spacingAndGlyphs">μεταβολής</tspan> <tspan x="1146.1" textLength="144.09" lengthAdjust="spacingAndGlyphs">επιβεβαιωμένων</tspan> <tspan x="1299.29" textLength="111.5" lengthAdjust="spacingAndGlyphs">κρουσμάτων</tspan> <tspan x="1417.89" textLength="60" lengthAdjust="spacingAndGlyphs">(7days</tspan> <tspan x="1485.1" textLength="63.8" lengthAdjust="spacingAndGlyphs">moving</tspan> <tspan x="1557.4" textLength="78.39" lengthAdjust="spacingAndGlyphs">average)</tspan></text>
<text transform="translate(23.8 426.29) rotate(-90)" font-size="21.5" textLength="64.91" lengthAdjust="spacingAndGlyphs" fill="#383838">Ρυθμός</text>
<text transform="translate(23.8 352.93) rotate(-90)" font-size="21.5" textLength="92.77" lengthAdjust="spacingAndGlyphs" fill="#383838">μεταβολής</text>
<text transform="translate(23.8 252.53) rotate(-90)" font-size="21.5" textLength="111.93" lengthAdjust="spacingAndGlyphs" fill="#383838">κρουσμάτων</text>
<text transform="translate(1694.9 398.93) rotate(-90)" font-size="21.5" textLength="100.82" lengthAdjust="spacingAndGlyphs" fill="#383838">Κρούσματα</text>
<text transform="translate(1694.9 289.8) rotate(-90)" font-size="21.5" textLength="32.8" lengthAdjust="spacingAndGlyphs" fill="#383838">ανά</text>
<text transform="translate(1694.9 250.98) rotate(-90)" font-size="21.5" textLength="75.94" lengthAdjust="spacingAndGlyphs" fill="#383838">100.000</text>
<rect x="95" y="19" width="33" height="11.7" fill="#a5a5a5"/>
<path d="M94.8 58H128" stroke="#3d6cc4" stroke-width="1.8" fill="none"/>
<path d="M933.95 25H945.95M962 25H966.9" stroke="#ff0000" stroke-width="4.1" stroke-linecap="round" fill="none"/>
<path d="M933.3 58H967.9" stroke="#ed7d31" stroke-width="1.8" fill="none"/>
</svg>
</body></html>
